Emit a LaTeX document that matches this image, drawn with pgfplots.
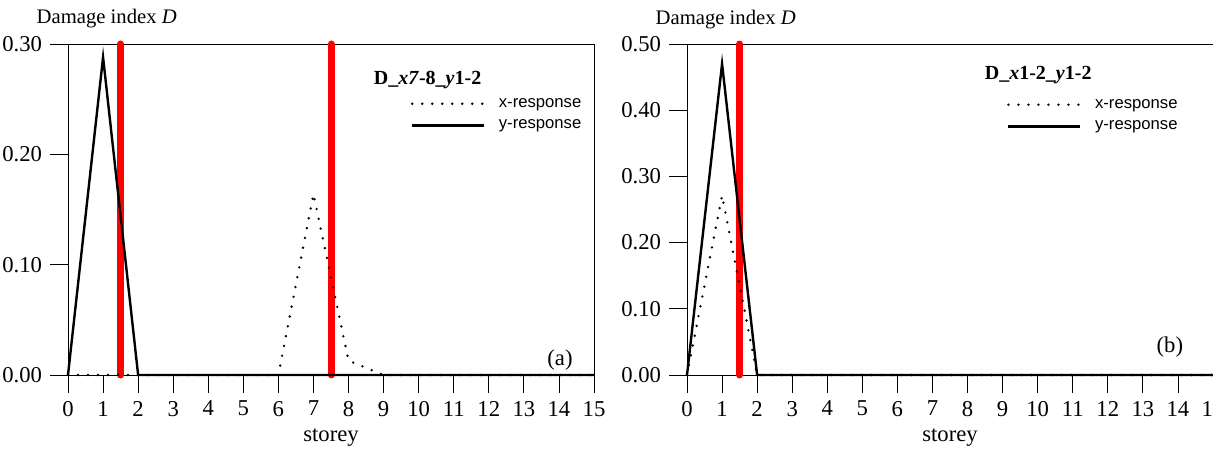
\documentclass[border=0pt]{standalone}
\usepackage{fontspec}
\setmainfont{Liberation Serif}
\setsansfont{Liberation Sans}
\usepackage{pgfplots}
\pgfplotsset{compat=1.18}

\pgfplotsset{
  dmg/.style={
    scale only axis, width=394.5pt, height=248.25pt,
    xmin=0, xmax=15, ymin=0,
    xtick={0,1,...,15},
    tick align=outside, tick pos=left,
    major tick length=13.5pt,
    axis line style={line width=0.6pt},
    every tick/.style={line width=0.6pt, black},
    ticklabel style={font=\fontsize{17}{17}\selectfont},
    xticklabel style={yshift=-2.5pt},
    /pgf/number format/assume math mode=true,
    yticklabel style={xshift=-2.5pt, /pgf/number format/.cd, fixed, fixed zerofill, precision=2},
    xlabel={storey},
    xlabel style={font=\fontsize{17}{17}\selectfont, at={(axis description cs:0.5,0)}, anchor=base, yshift=-49.5pt},
    clip=false,
    legend image code/.code={\draw[#1] (0pt,0pt) -- (54pt,0pt); \path (62pt,0pt);},
    legend style={draw=none, fill=none, font=\sffamily\fontsize{12.5}{12.5}\selectfont,
      inner sep=0pt, row sep=4pt, cells={anchor=west}, anchor=north west},
  },
  xresp/.style={black, line width=2pt, line cap=round, dash pattern=on 0pt off 7.5pt},
  yresp/.style={black, line width=1.8pt},
  redline/.style={red, line width=5.25pt, line cap=round, forget plot},
}

\begin{document}
\begin{tikzpicture}
% ---------- (a) ----------
\begin{axis}[dmg, at={(51pt,56.25pt)}, anchor=south west,
  ymax=0.30, ytick={0,0.1,0.2,0.3},
  legend style={at={(axis cs:9.77,0.2535)}}]
\addplot[redline] coordinates {(1.5,0) (1.5,0.30)};
\addplot[redline] coordinates {(7.5,0) (7.5,0.30)};
\addplot[xresp] coordinates {(0,0) (1,0) (2,0) (3,0) (4,0) (5,0) (6,0) (7,0.164) (8,0.013) (9,0) (10,0) (11,0) (12,0) (13,0) (14,0) (15,0)};
\addlegendentry{x-response}
\addplot[yresp] coordinates {(0,0) (1,0.288) (2,0) (3,0) (4,0) (5,0) (6,0) (7,0) (8,0) (9,0) (10,0) (11,0) (12,0) (13,0) (14,0) (15,0)};
\addlegendentry{y-response}
\node[anchor=west, font=\fontsize{15}{15}\selectfont] at (axis cs:8.59,0.2675) {\textbf{D\_\textit{x7}-8\_\textit{y}1-2}};
\node[font=\fontsize{17}{17}\selectfont] at (axis cs:14.03,0.0136) {(a)};
\node[anchor=base west, font=\fontsize{15.5}{15.5}\selectfont] at ([xshift=-27pt,yshift=15pt]rel axis cs:0,1) {Damage index \textit{D}};
\end{axis}
% ---------- (b) ----------
\begin{axis}[dmg, at={(515.25pt,56.25pt)}, anchor=south west,
  ymax=0.50, ytick={0,0.1,0.2,0.3,0.4,0.5},
  legend style={at={(axis cs:9.12,0.421)}}]
\addplot[redline] coordinates {(1.5,0) (1.5,0.50)};
\addplot[xresp] coordinates {(0,0) (1,0.271) (2,0) (3,0) (4,0) (5,0) (6,0) (7,0) (8,0) (9,0) (10,0) (11,0) (12,0) (13,0) (14,0) (15,0)};
\addlegendentry{x-response}
\addplot[yresp] coordinates {(0,0) (1,0.470) (2,0) (3,0) (4,0) (5,0) (6,0) (7,0) (8,0) (9,0) (10,0) (11,0) (12,0) (13,0) (14,0) (15,0)};
\addlegendentry{y-response}
\node[anchor=west, font=\fontsize{15}{15}\selectfont] at (axis cs:8.36,0.453) {\textbf{D\_\textit{x}1-2\_\textit{y}1-2}};
\node[font=\fontsize{17}{17}\selectfont] at (axis cs:13.77,0.042) {(b)};
\node[anchor=base west, font=\fontsize{15.5}{15.5}\selectfont] at ([xshift=-27pt,yshift=15pt]rel axis cs:0,1) {Damage index \textit{D}};
\end{axis}
\pgfresetboundingbox
\path[use as bounding box] (0,0) rectangle (909.75pt,337.5pt);
\end{tikzpicture}
\end{document}
